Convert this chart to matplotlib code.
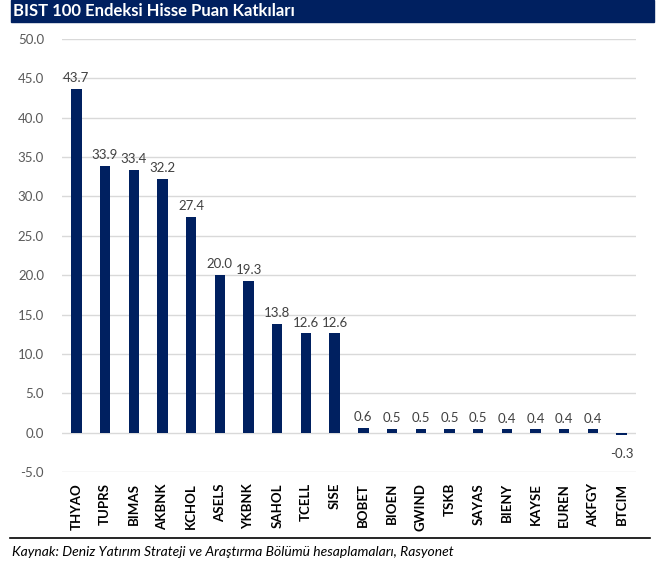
import matplotlib.pyplot as plt
import matplotlib.patches as mpatches
from matplotlib.lines import Line2D

plt.rcParams["font.family"] = ["Lato", "DejaVu Sans"]

# data
TICKERS = ["THYAO", "TUPRS", "BIMAS", "AKBNK", "KCHOL", "ASELS", "YKBNK",
           "SAHOL", "TCELL", "SISE", "BOBET", "BIOEN", "GWIND", "TSKB",
           "SAYAS", "BIENY", "KAYSE", "EUREN", "AKFGY", "BTCIM"]
POINTS = [43.7, 33.9, 33.4, 32.2, 27.4, 20.0, 19.3, 13.8, 12.6, 12.6,
          0.6, 0.5, 0.5, 0.5, 0.5, 0.4, 0.4, 0.4, 0.4, -0.3]
Y_TICKS = [-5.0, 0.0, 5.0, 10.0, 15.0, 20.0, 25.0, 30.0, 35.0, 40.0, 45.0, 50.0]

NAVY = "#002060"
W, H = 668, 567

fig = plt.figure(figsize=(W / 100, H / 100), dpi=100)
fig.patch.set_facecolor("white")

# title bar
fig.patches.append(mpatches.Rectangle((11 / W, 1 - 22 / H), (654 - 11) / W, 22 / H,
                                      transform=fig.transFigure, color=NAVY, zorder=0))
fig.text(13 / W, 1 - 11 / H, "BIST 100 Endeksi Hisse Puan Katkıları",
         color="white", fontsize=12, fontweight="bold", va="center", ha="left")

ax = fig.add_axes([62 / W, 1 - 472 / H, (636 - 62) / W, (472 - 39) / H])
x = list(range(len(TICKERS)))
ax.bar(x, POINTS, width=0.36, color=NAVY, zorder=3)

for xi, v in zip(x, POINTS):
    if v >= 0:
        ax.text(xi, v + 0.6, f"{v:.1f}", ha="center", va="bottom",
                fontsize=9.5, color="#404040")
    else:
        ax.text(xi, v - 1.6, f"{v:.1f}", ha="center", va="top",
                fontsize=9.5, color="#404040")

ax.set_xlim(-0.5, len(TICKERS) - 0.5)
ax.set_ylim(-5, 50)
ax.set_yticks(Y_TICKS)
ax.set_yticklabels([f"{t:.1f}" for t in Y_TICKS])
ax.yaxis.grid(True, color="#d9d9d9", linewidth=1.0, zorder=0)
ax.set_axisbelow(True)
for s in ax.spines.values():
    s.set_visible(False)
ax.tick_params(axis="y", length=0, pad=13, labelsize=9.5, labelcolor="#595959")
ax.tick_params(axis="x", length=0, pad=8)
ax.set_xticks(x)
ax.set_xticklabels(TICKERS, rotation=90, fontsize=9.5, fontweight="bold", color="black")

# bottom rule and source
fig.lines.append(Line2D([10 / W, 650 / W], [1 - 538 / H, 1 - 538 / H],
                        transform=fig.transFigure, color="black", linewidth=1.2))
fig.text(12 / W, 1 - 552 / H,
         "Kaynak: Deniz Yatırım Strateji ve Araştırma Bölümü hesaplamaları, Rasyonet",
         fontsize=10, style="italic", color="black", va="center", ha="left")

fig.savefig("out.png", dpi=100, facecolor="white")
